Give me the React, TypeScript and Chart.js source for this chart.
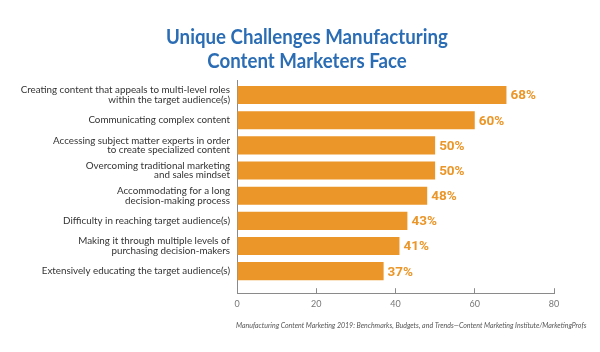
import React, { useEffect, useRef } from "react";
import { Chart, registerables } from "chart.js";

Chart.register(...registerables);

const categories: string[][] = [
  ["Creating content that appeals to multi-level roles", "within the target audience(s)"],
  ["Communicating complex content"],
  ["Accessing subject matter experts in order", "to create specialized content"],
  ["Overcoming traditional marketing", "and sales mindset"],
  ["Accommodating for a long", "decision-making process"],
  ["Difficulty in reaching target audience(s)"],
  ["Making it through multiple levels of", "purchasing decision-makers"],
  ["Extensively educating the target audience(s)"],
];
const values: number[] = [68, 60, 50, 50, 48, 43, 41, 37];
const xTicks: number[] = [0, 20, 40, 60, 80];
const titleLines: string[] = ["Unique Challenges Manufacturing", "Content Marketers Face"];
const sourceNote =
  "Manufacturing Content Marketing 2019: Benchmarks, Budgets, and Trends\u2014Content Marketing Institute/MarketingProfs";

const ORANGE = "#EB9628";
const BLUE = "#2B6DB5";
const AXIS = "#8a8a8a";
const LABEL_FONT = "Lato, 'Noto Sans', sans-serif";

// Condensed two-line title, drawn as real canvas text
const condensedTitle = {
  id: "condensedTitle",
  afterDraw(chart: any) {
    const ctx = chart.ctx;
    const squeeze = 0.89;
    const lineGap = 24;
    const firstY = 37;
    const cx = chart.width / 2 + 7;
    ctx.save();
    ctx.font = "bold 21px Lato, Roboto, sans-serif";
    ctx.fillStyle = BLUE;
    ctx.textAlign = "center";
    ctx.textBaseline = "middle";
    titleLines.forEach((line, i) => {
      ctx.save();
      ctx.translate(cx, firstY + i * lineGap);
      ctx.scale(squeeze, 1);
      ctx.fillText(line, 0, 0);
      ctx.restore();
    });
    ctx.restore();
  },
};

// Source note, left-aligned with the plot area under the x axis
const sourceLine = {
  id: "sourceLine",
  afterDraw(chart: any) {
    const ctx = chart.ctx;
    const xScale = chart.scales.x;
    ctx.save();
    ctx.font = "italic 7px Lato, sans-serif";
    ctx.fillStyle = "#555";
    ctx.textAlign = "left";
    ctx.textBaseline = "middle";
    ctx.fillText(sourceNote, chart.chartArea.left - 1, xScale.bottom + 6);
    ctx.restore();
  },
};

const valueLabels = {
  id: "valueLabels",
  afterDatasetsDraw(chart: any) {
    const ctx = chart.ctx;
    const meta = chart.getDatasetMeta(0);
    ctx.save();
    ctx.font = "bold 13.5px Roboto, sans-serif";
    ctx.fillStyle = ORANGE;
    ctx.textAlign = "left";
    ctx.textBaseline = "middle";
    meta.data.forEach((bar: any, i: number) => {
      ctx.fillText(values[i] + "%", bar.x + 4, bar.y + 1);
    });
    ctx.restore();
  },
};

export default function App() {
  const canvasRef = useRef<HTMLCanvasElement | null>(null);

  useEffect(() => {
    if (!canvasRef.current) return;
    const chart = new Chart(canvasRef.current, {
      type: "bar",
      data: {
        datasets: [
          {
            data: values.map((v, i) => ({ x: v, y: i })),
            backgroundColor: ORANGE,
            borderWidth: 0,
            barPercentage: 0.72,
            categoryPercentage: 1,
          },
        ],
      },
      plugins: [valueLabels, condensedTitle, sourceLine],
      options: {
        indexAxis: "y",
        animation: false,
        responsive: false,
        layout: { padding: { left: 8, right: 46, top: 80, bottom: 32 } },
        plugins: {
          legend: { display: false },
          tooltip: { enabled: false },
          title: { display: false },
        },
        scales: {
          y: {
            type: "linear",
            reverse: true,
            offset: false,
            min: -0.597,
            max: 7.875,
            afterBuildTicks: (axis: any) => {
              axis.ticks = categories.map((_, i) => ({ value: i }));
            },
            afterFit: (scale: any) => {
              scale.width = 229;
            },
            grid: { display: false, drawTicks: false, tickLength: 0 },
            border: { display: true, color: AXIS, width: 1 },
            ticks: {
              autoSkip: false,
              padding: 7,
              color: "#333",
              font: { family: LABEL_FONT, size: 9.8, lineHeight: 0.96 },
              callback: (v: any) => categories[v] ?? "",
            },
          },
          x: {
            type: "linear",
            min: 0,
            max: 80,
            afterBuildTicks: (axis: any) => {
              axis.ticks = xTicks.map((v) => ({ value: v }));
            },
            grid: {
              display: true,
              drawOnChartArea: false,
              drawTicks: true,
              tickLength: -5,
              color: AXIS,
              lineWidth: 1,
            },
            border: { display: true, color: AXIS, width: 1 },
            ticks: {
              padding: 10.5,
              color: "#777",
              font: { family: LABEL_FONT, size: 9, lineHeight: 1.2 },
            },
          },
        },
      },
    } as any);
    return () => chart.destroy();
  }, []);

  return (
    <div style={{ position: "absolute", left: 0, top: 0, width: 600, height: 352, background: "#fff" }}>
      <canvas ref={canvasRef} width={600} height={352} style={{ display: "block" }} />
    </div>
  );
}
